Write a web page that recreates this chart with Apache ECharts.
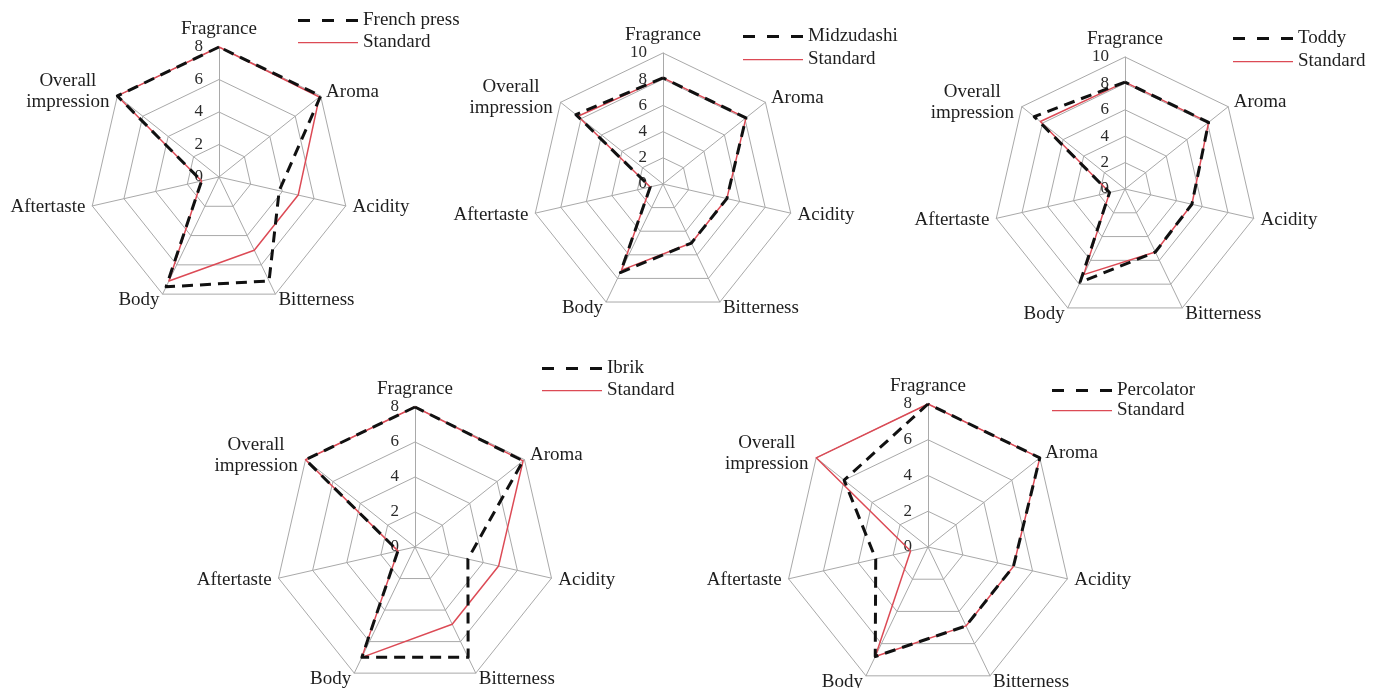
<!DOCTYPE html>
<html>
<head>
<meta charset="utf-8">
<title>Sensory profiles of coffee brewing methods</title>
<script src="https://cdn.jsdelivr.net/npm/echarts@6/dist/echarts.min.js"></script>
<style>
  html, body { margin: 0; padding: 0; background: #ffffff; }
  #main { width: 1379px; height: 688px; }
</style>
</head>
<body>
<div id="main"></div>
<script>
// Cupping attributes, listed clockwise from the top of each web
const attributes = ['Fragrance', 'Aroma', 'Acidity', 'Bitterness', 'Body', 'Aftertaste', 'Overall impression'];

// Brewing methods compared against the standard brew
const methods = ['French press', 'Midzudashi', 'Toddy', 'Ibrik', 'Percolator'];
const referenceName = 'Standard';

// Scores per attribute (same order as `attributes`)
const frenchPress      = [8, 8, 3.8, 7.1, 7.5, 1.1, 8];
const standardFrench   = [8, 7.9, 5, 5, 7.1, 1.1, 8];

const midzudashi       = [8.1, 8.1, 5, 5, 7.5, 1, 8.5];
const standardMidz     = [8.1, 8.1, 5, 5, 7.3, 1, 8.3];

const toddy            = [8.1, 8.1, 5.2, 5.3, 7.85, 1.2, 8.8];
const standardToddy    = [8.1, 8.1, 5.2, 5.3, 7.2, 1.2, 8.2];

const ibrik            = [8, 7.9, 3.1, 7, 7, 1, 8];
const standardIbrik    = [8, 7.9, 4.9, 4.9, 7, 1, 8];

const percolator       = [8, 8, 4.9, 4.9, 6.8, 3, 6];
const standardPerc     = [8, 8, 4.9, 4.9, 6.8, 1, 8];

// Axis scale of each web: 0..max, labelled every 2
const scaleMax = [8, 10, 10, 8, 8];
const tickStep = 2;

const methodValues = [frenchPress, midzudashi, toddy, ibrik, percolator];
const standardValues = [standardFrench, standardMidz, standardToddy, standardIbrik, standardPerc];

// Placement of each web and its key on the page
const layout = [
  { center: [219, 177], radius: 130, legend: [298, 11], gap: 3 },
  { center: [663, 184], radius: 131, legend: [743, 27], gap: 4 },
  { center: [1125, 189], radius: 132, legend: [1233, 29], gap: 4 },
  { center: [415, 547], radius: 140, legend: [542, 359], gap: 3 },
  { center: [928, 547], radius: 143, legend: [1052, 381], gap: 1 }
];

const FONT = 'Liberation Serif, Times New Roman, serif';
const GRID = '#a9a9a9';
const RED = '#dc4a55';
const DARK = '#111111';

// ECharts lays indicators out counter-clockwise; reorder so they run clockwise
const order = [0, 6, 5, 4, 3, 2, 1];
const reorder = arr => order.map(i => arr[i]);

// Key icons: three dashes, and a thin solid line (same bounding box)
const dashIcon = 'path://M0,0h12v3h-12zM24,0h12v3h-12zM48,0h12v3h-12z';
const solidIcon = 'path://M0,0h0.01v3h-0.01zM0,0.9h60v1.3h-60z';

const radars = layout.map((L, k) => ({
  center: L.center,
  radius: L.radius,
  startAngle: 90,
  shape: 'polygon',
  splitNumber: scaleMax[k] / tickStep,
  nameGap: 7,
  indicator: reorder(attributes).map((name, j) => {
    const ind = { name: name, min: 0, max: scaleMax[k] };
    if (j === 0) {
      ind.axisLabel = {
        show: true, margin: 16, color: '#2a2a2a',
        fontFamily: FONT, fontSize: 17
      };
    }
    return ind;
  }),
  axisName: {
    color: '#1e1e1e',
    fontFamily: FONT,
    fontSize: 19,
    formatter: function (name) {
      if (name === 'Overall impression') {
        return '{c|Overall}\n{c|impression}';
      }
      return name;
    },
    rich: {
      c: { width: 88, align: 'center', fontFamily: FONT, fontSize: 19, color: '#1e1e1e', lineHeight: 21 }
    }
  },
  axisLine: { lineStyle: { color: GRID, width: 1 } },
  splitLine: { lineStyle: { color: GRID, width: 1 } },
  splitArea: { show: false },
  axisTick: { show: false },
  axisLabel: { show: false }
}));

const series = layout.map((L, k) => ({
  type: 'radar',
  radarIndex: k,
  symbol: 'none',
  silent: true,
  data: [
    {
      name: referenceName,
      value: reorder(standardValues[k]),
      itemStyle: { color: RED },
      lineStyle: { color: RED, width: 1.5, type: 'solid' }
    },
    {
      name: methods[k],
      value: reorder(methodValues[k]),
      itemStyle: { color: DARK },
      lineStyle: { color: DARK, width: 3, type: [11, 7] }
    }
  ]
}));

const legends = layout.map((L, k) => ({
  orient: 'vertical',
  left: L.legend[0],
  top: L.legend[1],
  padding: 0,
  itemGap: L.gap,
  itemWidth: 60,
  itemHeight: 3,
  selectedMode: false,
  itemStyle: { borderWidth: 0 },
  textStyle: { fontFamily: FONT, fontSize: 19, color: '#1e1e1e' },
  data: [
    { name: methods[k], icon: dashIcon },
    { name: referenceName, icon: solidIcon }
  ]
}));

const chart = echarts.init(document.getElementById('main'), null, { renderer: 'canvas' });
chart.setOption({
  backgroundColor: '#ffffff',
  animation: false,
  radar: radars,
  legend: legends,
  series: series
});
</script>
</body>
</html>
